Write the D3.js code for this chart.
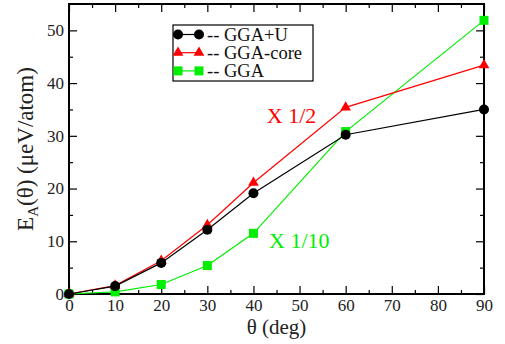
<!DOCTYPE html>
<html lang="en">
<head>
<meta charset="utf-8">
<title>E_A(theta)</title>
<script src="https://d3js.org/d3.v7.min.js"></script>
<style>
body{margin:0;background:#fff;}
</style>
</head>
<body>
<div id="chart"></div>
<script>
// angles (deg)
var angles = [0, 10, 20, 30, 40, 60, 90]
var ggaU    = [0, 1.5, 5.9, 12.2, 19.1, 30.2, 35.0]
var ggaCore = [0, 1.6, 6.3, 13.1, 21.1, 35.4, 43.4]
var gga     = [0, 0.4, 1.8, 5.4, 11.5, 30.8, 51.9]
var seriesNames = ["-- GGA+U", "-- GGA-core", "-- GGA"]
var seriesColors = ["#000000", "#ff0000", "#00ee00"]
var xTicks = [0, 10, 20, 30, 40, 50, 60, 70, 80, 90]
var yTicks = [0, 10, 20, 30, 40, 50]
var notes = [{text: "X 1/2", x: 42.9, y: 32.4, color: "#ff0000"},
             {text: "X 1/10", x: 43.4, y: 8.7, color: "#00ee00"}]

var FONT = "'Liberation Serif'"
var W = 505, H = 344
var m = {top: 4, right: 21, bottom: 50, left: 69}
var w = W - m.left - m.right
var h = H - m.top - m.bottom

var x = d3.scaleLinear().domain([0, 90]).range([0, w])
var y = d3.scaleLinear().domain([0, 55]).range([h, 0])

var svg = d3.select("#chart").append("svg").attr("width", W).attr("height", H)
var g = svg.append("g").attr("transform", "translate(" + m.left + "," + m.top + ")")

// inward ticks on all four sides
function ticks(axis, vals, len){
  return axis.tickValues(vals).tickSizeInner(-len).tickSizeOuter(0)
}
var xMinor = d3.range(5, 90, 10), yMinor = d3.range(5, 55, 10)

g.append("g").attr("transform", "translate(0," + h + ")")
  .call(ticks(d3.axisBottom(x), xTicks, 8).tickPadding(5))
g.append("g").attr("transform", "translate(0," + h + ")")
  .call(ticks(d3.axisBottom(x), xMinor, 4).tickFormat(""))
g.append("g").call(ticks(d3.axisTop(x), xTicks, 8).tickFormat(""))
g.append("g").call(ticks(d3.axisTop(x), xMinor, 4).tickFormat(""))
g.append("g").call(ticks(d3.axisLeft(y), yTicks, 8).tickPadding(5))
g.append("g").call(ticks(d3.axisLeft(y), yMinor, 4).tickFormat(""))
g.append("g").attr("transform", "translate(" + w + ",0)")
  .call(ticks(d3.axisRight(y), yTicks, 8).tickFormat(""))
g.append("g").attr("transform", "translate(" + w + ",0)")
  .call(ticks(d3.axisRight(y), yMinor, 4).tickFormat(""))

g.selectAll(".domain").remove()
g.selectAll("g").attr("font-family", null)
g.selectAll(".tick line").attr("stroke", "#000").attr("stroke-width", 1.2)
g.selectAll(".tick text").attr("font-size", 17).attr("fill", "#222")
  .style("font-family", FONT)

g.append("rect").attr("width", w).attr("height", h)
  .attr("fill", "none").attr("stroke", "#000").attr("stroke-width", 2)

var data = [ggaU, ggaCore, gga]
var line = d3.line().x(function(d, i){ return x(angles[i]) }).y(function(d){ return y(d) })

function marker(sel, k){
  if(k == 0) sel.append("circle").attr("r", 5)
  else if(k == 1) sel.append("path").attr("d", d3.symbol().type(d3.symbolTriangle).size(50)())
  else sel.append("rect").attr("x", -4.5).attr("y", -4.5).attr("width", 9).attr("height", 9)
}

// draw in order: GGA, GGA-core, GGA+U (black on top)
[2, 1, 0].forEach(function(k){
  var c = seriesColors[k]
  g.append("path").datum(data[k]).attr("d", line)
    .attr("fill", "none").attr("stroke", c).attr("stroke-width", 1.2)
  g.selectAll(".m" + k).data(data[k]).enter().append("g")
    .attr("transform", function(d, i){ return "translate(" + x(angles[i]) + "," + y(d) + ")" })
    .attr("fill", c)
    .each(function(){ marker(d3.select(this), k) })
})

// annotations
g.selectAll(".note").data(notes).enter().append("text")
  .attr("x", function(d){ return x(d.x) }).attr("y", function(d){ return y(d.y) })
  .attr("fill", function(d){ return d.color }).attr("font-size", 22)
  .style("font-family", FONT)
  .text(function(d){ return d.text })

// legend
var lg = svg.append("g").attr("transform", "translate(173,25)")
lg.append("rect").attr("width", 140).attr("height", 56)
  .attr("fill", "#fff").attr("stroke", "#000").attr("stroke-width", 1.2)
seriesNames.forEach(function(name, k){
  var ry = 9.5 + k * 18.2
  var row = lg.append("g").attr("transform", "translate(0," + ry + ")")
  row.append("line").attr("x1", 5).attr("x2", 26).attr("stroke", seriesColors[k]).attr("stroke-width", 1.2)
  ;[5, 26].forEach(function(px){
    var mk = row.append("g").attr("transform", "translate(" + px + ",0)").attr("fill", seriesColors[k])
    marker(mk, k)
  })
  row.append("text").attr("x", 34).attr("y", 6.5).attr("font-size", 18.5).attr("fill", "#111")
    .style("font-family", FONT).text(name)
})

// axis titles
svg.append("text").attr("x", m.left + w / 2).attr("y", 334).attr("text-anchor", "middle")
  .attr("font-size", 21).attr("fill", "#222").style("font-family", FONT).text("θ (deg)")

var yt = svg.append("text").attr("transform", "translate(33," + (m.top + h / 2) + ") rotate(-90)")
  .attr("text-anchor", "middle").attr("font-size", 23).attr("fill", "#222").style("font-family", FONT)
yt.append("tspan").text("E")
yt.append("tspan").attr("font-size", 15).attr("dy", 5).text("A")
yt.append("tspan").attr("dy", -5).text("(θ) (μeV/atom)")
</script>
</body>
</html>
